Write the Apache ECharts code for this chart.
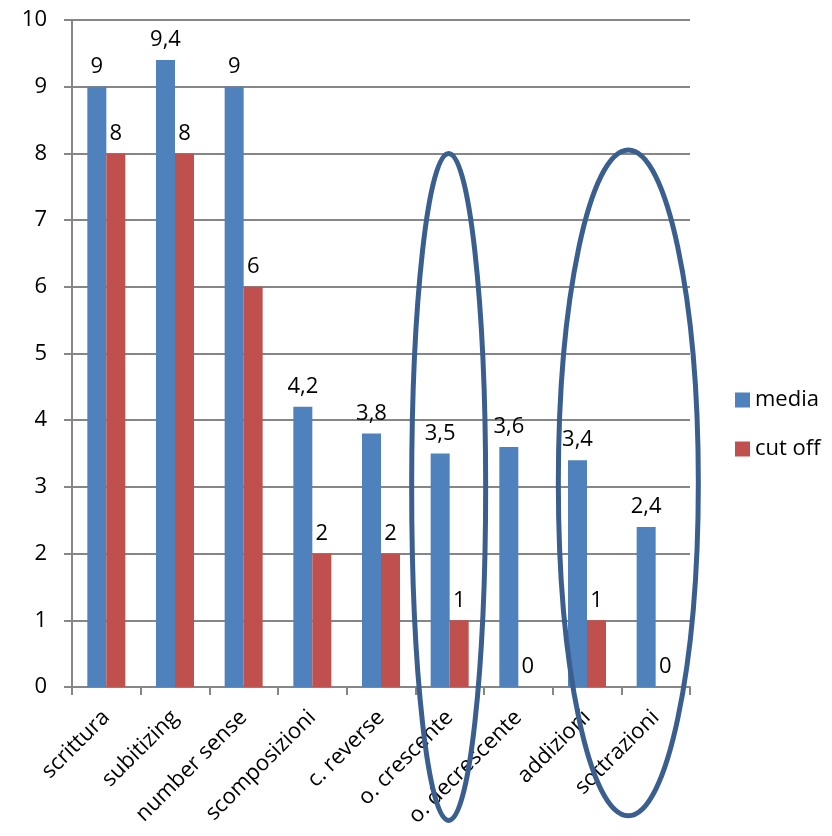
<!DOCTYPE html>
<html><head><meta charset="utf-8">
<script src="https://cdn.jsdelivr.net/npm/echarts@6/dist/echarts.min.js"></script>
<style>html,body{margin:0;padding:0;background:#fff}#c{width:832px;height:836px}</style>
</head><body><div id="c"></div>
<script>
const categories = ['scrittura','subitizing','number sense','scomposizioni','c. reverse','o. crescente','o. decrescente','addizioni','sottrazioni'];
const media = [9, 9.4, 9, 4.2, 3.8, 3.5, 3.6, 3.4, 2.4];
const cutoff = [8, 8, 6, 2, 2, 1, 0, 1, 0];
const yTicks = [0,1,2,3,4,5,6,7,8,9,10];

const FONT = '"Open Sans", Lato, sans-serif';
const chart = echarts.init(document.getElementById('c'));
const lbl = {show:true, position:'top', distance:9, color:'#000', fontSize:22, fontFamily:FONT,
  formatter: p => String(p.value).replace('.', ',')};
chart.setOption({
  animation:false,
  grid:{left:72, right:142, top:20, bottom:149, containLabel:false},
  legend:{orient:'vertical', left:730, top:384, itemWidth:15, itemHeight:15, itemGap:27,
    icon:'rect', textStyle:{fontSize:22, fontFamily:FONT, color:'#000'}, data:['media','cut off']},
  xAxis:{type:'category', data:categories,
    axisLine:{lineStyle:{color:'#868686', width:2}},
    axisTick:{show:true, length:8, interval:0, lineStyle:{color:'#868686', width:2}},
    axisLabel:{rotate:45, interval:0, color:'#000', fontSize:22, fontFamily:FONT, margin:27}},
  yAxis:{type:'value', min:0, max:10, interval:1,
    axisLine:{show:true, lineStyle:{color:'#868686', width:2}},
    axisTick:{show:true, length:8, lineStyle:{color:'#868686', width:2}},
    splitLine:{lineStyle:{color:'#868686', width:2}},
    axisLabel:{color:'#000', fontSize:22, fontFamily:FONT, margin:25,
      formatter: v => yTicks.includes(v) ? String(v) : ''}},
  series:[
    {name:'media', type:'bar', data:media, barWidth:19, barGap:'0%', itemStyle:{color:'#4f81bd'}, label:lbl},
    {name:'cut off', type:'bar', data:cutoff, barWidth:19, itemStyle:{color:'#c0504d'}, label:lbl}
  ]
});
function px(cat){ return chart.convertToPixel({xAxisIndex:0}, cat); }
function py(v){ return chart.convertToPixel({yAxisIndex:0}, v); }
const e1x = px('o. crescente') - 1;
const e2x = (px('addizioni') + px('sottrazioni'))/2 + 7;
const top1 = py(8.0), bot1 = py(-2.0);
const top2 = py(8.05), bot2 = py(-1.93);
chart.setOption({graphic:[
  {type:'ellipse', shape:{cx:e1x, cy:(top1+bot1)/2, rx:37, ry:(bot1-top1)/2},
   style:{fill:null, stroke:'#3a5f8f', lineWidth:5}, z:100},
  {type:'ellipse', shape:{cx:e2x, cy:(top2+bot2)/2, rx:70, ry:(bot2-top2)/2},
   style:{fill:null, stroke:'#3a5f8f', lineWidth:5}, z:100}
]});
</script></body></html>
